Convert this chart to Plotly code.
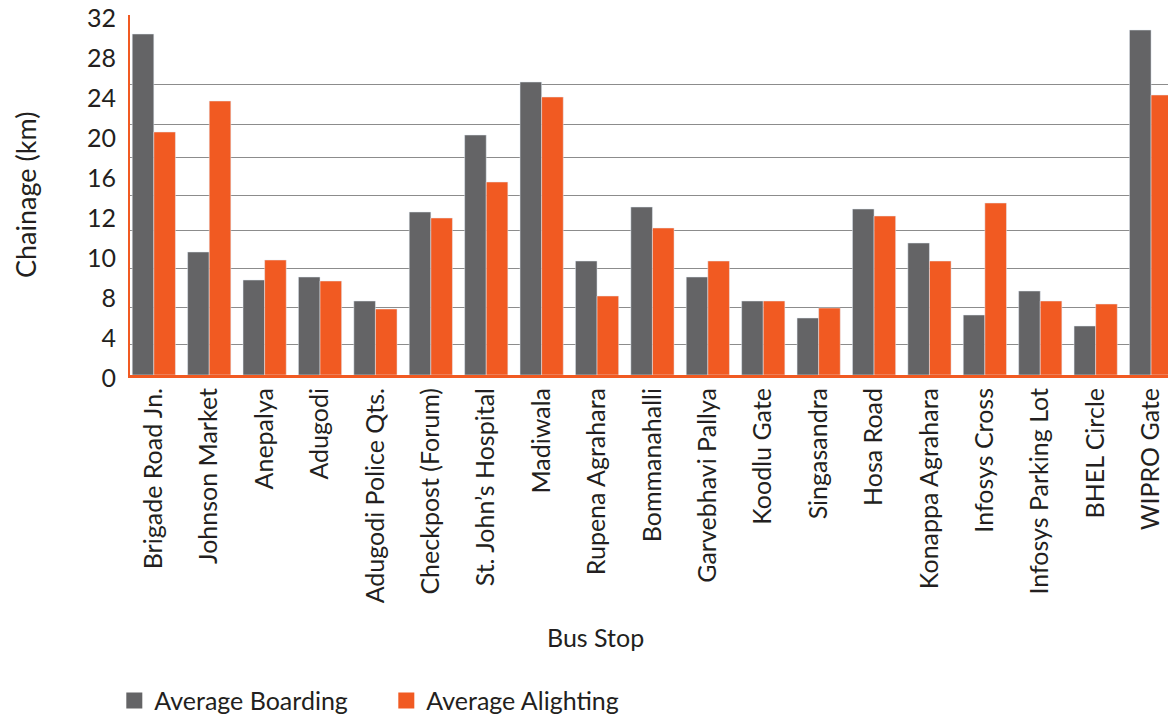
import plotly.graph_objects as go

# bus stops along the route
stops = [
    "Brigade Road Jn.", "Johnson Market", "Anepalya", "Adugodi",
    "Adugodi Police Qts.", "Checkpost (Forum)", "St. John’s Hospital",
    "Madiwala", "Rupena Agrahara", "Bommanahalli", "Garvebhavi Pallya",
    "Koodlu Gate", "Singasandra", "Hosa Road", "Konappa Agrahara",
    "Infosys Cross", "Infosys Parking Lot", "BHEL Circle", "WIPRO Gate",
]

# bar heights, read in axis units (one tick step = 4 units)
avg_boarding = [34.1, 12.3, 9.5, 9.8, 7.4, 16.3, 24.0, 29.3, 11.4, 16.8,
                9.8, 7.4, 5.7, 16.6, 13.2, 6.0, 8.4, 4.9, 34.5]
avg_alighting = [24.3, 27.4, 11.5, 9.4, 6.6, 15.7, 19.3, 27.8, 7.9, 14.7,
                 11.4, 7.4, 6.7, 15.9, 11.4, 17.2, 7.4, 7.1, 28.0]

# tick labels as printed on the original axis
y_tick_text = ["0", "4", "8", "10", "12", "16", "20", "24", "28", "32"]
y_tick_vals = [i * 4 for i in range(len(y_tick_text))]

GREY = "#646466"
ORANGE = "#f15a22"
FONT = "Lato"

fig = go.Figure()

fig.add_trace(go.Bar(x=stops, y=avg_boarding, name="Average Boarding",
                     marker_color=GREY, showlegend=False))
fig.add_trace(go.Bar(x=stops, y=avg_alighting, name="Average Alighting",
                     marker_color=ORANGE, showlegend=False))

# legend entries with larger square swatches
for name, col in [("Average Boarding", GREY), ("Average Alighting", ORANGE)]:
    fig.add_trace(go.Scatter(x=[None], y=[None], mode="markers", name=name,
                             marker=dict(symbol="square", size=20, color=col)))

# carrier trace for the overlaid grid axis
fig.add_trace(go.Scatter(x=[None], y=[None], yaxis="y2", showlegend=False,
                         hoverinfo="skip"))

# page body adds an 8px offset, so the figure is 8px smaller than the window
fig.update_layout(
    width=1168, height=711,
    margin=dict(l=122, r=0, t=7, b=344, autoexpand=False),
    plot_bgcolor="white", paper_bgcolor="white",
    font=dict(family=FONT, size=24, color="#231f20"),
    barmode="group", bargap=0.22, bargroupgap=0,
    xaxis=dict(
        type="category", range=[-0.43, 18.45], automargin=False,
        tickangle=-90, showgrid=False,
        showline=True, linecolor=ORANGE, linewidth=3,
        ticks="", tickfont=dict(size=25),
    ),
    yaxis=dict(
        range=[0, 36], tickvals=y_tick_vals, ticktext=y_tick_text,
        automargin=False, showgrid=False, zeroline=False,
        showline=True, linecolor=ORANGE, linewidth=2,
        ticks="outside", ticklen=7, tickcolor="rgba(0,0,0,0)",
        tickfont=dict(size=25), ticklabeloverflow="allow",
        ticklabelshift=3,
    ),
    yaxis2=dict(
        overlaying="y", range=[0, 36], automargin=False,
        tickvals=[3.1, 6.8, 10.7, 14.5, 18.0, 21.8, 25.1, 29.1, 36.0],
        showticklabels=False, showgrid=True, gridcolor="#8c8c8c",
        gridwidth=1, zeroline=False, showline=False,
    ),
    legend=dict(
        orientation="h", x=-0.015, y=-0.905, xanchor="left", yanchor="middle",
        font=dict(size=25), itemwidth=30, entrywidth=227, tracegroupgap=0,
    ),
    annotations=[
        dict(text="Chainage (km)", textangle=-90, y=0.5,
             xref="paper", yref="paper", xanchor="center", yanchor="middle",
             showarrow=False, font=dict(size=27)),
        dict(text="Bus Stop", y=-0.728, xref="paper", yref="paper",
             xanchor="center", yanchor="middle",
             showarrow=False, font=dict(size=25)),
    ],
)

# title positions in window pixels -> paper coordinates of the plot area
fig.layout.annotations[0].x = (25 - 130) / 1046
fig.layout.annotations[1].x = (595 - 130) / 1046

fig.write_html("out.html")
